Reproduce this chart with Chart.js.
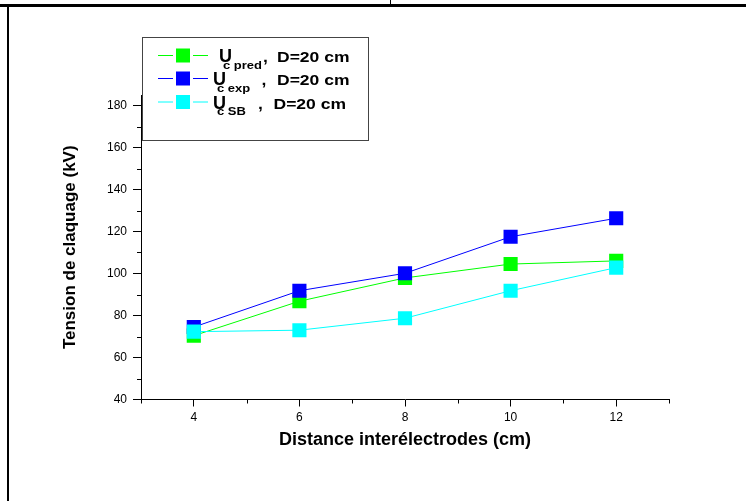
<!DOCTYPE html>
<html>
<head>
<meta charset="utf-8">
<script src="https://cdn.jsdelivr.net/npm/chart.js@4"></script>
<style>
body { margin: 0; background: #fff; }
#wrap { position: relative; width: 746px; height: 501px; }
#myChart { position: absolute; left: 0; top: 0; }
.rule { position: absolute; background: #000; }
</style>
</head>
<body>
<div id="wrap">
  <canvas id="myChart" width="746" height="501"></canvas>
  <div class="rule" style="left:0;top:4px;width:746px;height:3px"></div>
  <div class="rule" style="left:7px;top:4px;width:2px;height:497px"></div>
  <div class="rule" style="left:390px;top:0;width:1px;height:5px"></div>
</div>
<script>
// data
var distances = [4, 6, 8, 10, 12];
var ucPred = [70.4, 86.8, 97.9, 104.5, 106.0];
var ucExp = [74.5, 91.8, 100.1, 117.5, 126.3];
var ucSB = [72.3, 73.0, 78.7, 91.8, 102.8];

var xTicks = [4, 6, 8, 10, 12];
var xMinorTicks = [3, 5, 7, 9, 11, 13];
var yTicks = [40, 60, 80, 100, 120, 140, 160, 180];
var yMinorTicks = [50, 70, 90, 110, 130, 150, 170];
var legendSubs = ['c pred', 'c exp', 'c SB'];
var legendText = 'D=20 cm';

Chart.defaults.font.family = 'Arial, "Liberation Sans", sans-serif';
Chart.defaults.color = '#000';

function points(values) {
    return distances.map(function (d, i) { return { x: d, y: values[i] }; });
}

function series(label, values, color, order) {
    return {
        label: label,
        data: points(values),
        borderColor: color,
        backgroundColor: color,
        borderWidth: 1,
        pointStyle: 'rect',
        pointRadius: 10,
        pointBorderWidth: 0,
        pointHoverRadius: 10,
        order: order
    };
}

var chartData = {
    datasets: [
        series('Uc pred, D=20 cm', ucPred, '#00ff00', 2),
        series('Uc exp, D=20 cm', ucExp, '#0000ff', 1),
        series('Uc SB, D=20 cm', ucSB, '#00ffff', 0)
    ]
};

// small ticks between the labelled ones
var minorTicks = {
    id: 'minorTicks',
    afterDraw: function (chart) {
        var ctx = chart.ctx, xs = chart.scales.x, ys = chart.scales.y, a = chart.chartArea;
        ctx.save();
        ctx.strokeStyle = '#000';
        ctx.lineWidth = 1;
        ctx.beginPath();
        xMinorTicks.forEach(function (v) {
            var px = Math.round(xs.getPixelForValue(v)) + 0.5;
            ctx.moveTo(px, a.bottom);
            ctx.lineTo(px, a.bottom + 4);
        });
        yMinorTicks.forEach(function (v) {
            var py = Math.round(ys.getPixelForValue(v)) + 0.5;
            ctx.moveTo(a.left - 4, py);
            ctx.lineTo(a.left, py);
        });
        ctx.stroke();
        ctx.restore();
    }
};

function drawText(ctx, s, x, y, size, sx) {
    ctx.save();
    ctx.translate(x, y);
    ctx.scale(sx, 1);
    ctx.font = 'bold ' + size + 'px Arial, "Liberation Sans", sans-serif';
    ctx.textBaseline = 'alphabetic';
    ctx.textAlign = 'left';
    ctx.fillText(s, 0, 0);
    ctx.restore();
}

// boxed legend with subscripts, like the Origin one
var boxLegend = {
    id: 'boxLegend',
    afterDraw: function (chart) {
        var ctx = chart.ctx;
        var base = [62, 85, 108.5];
        var uX = [219, 213, 213];
        var commaX = [263, 261.5, 258];
        var dX = [277, 277, 273.5];
        ctx.save();
        ctx.fillStyle = '#fff';
        ctx.fillRect(142, 37, 227, 104);
        ctx.strokeStyle = '#444';
        ctx.lineWidth = 1;
        ctx.strokeRect(142.5, 37.5, 226, 103);
        chart.data.datasets.forEach(function (ds, i) {
            var cy = base[i] - 7;
            ctx.strokeStyle = ds.borderColor;
            ctx.lineWidth = 1;
            ctx.beginPath();
            ctx.moveTo(158, cy + 0.5);
            ctx.lineTo(173, cy + 0.5);
            ctx.moveTo(193, cy + 0.5);
            ctx.lineTo(208, cy + 0.5);
            ctx.stroke();
            ctx.fillStyle = ds.backgroundColor;
            ctx.fillRect(176, cy - 6.5, 14, 14);
            ctx.fillStyle = '#000';
            drawText(ctx, 'U', uX[i], base[i], 18, 1);
            drawText(ctx, legendSubs[i], uX[i] + 4, base[i] + 6.5, 10, 1.3);
            drawText(ctx, ',', commaX[i], base[i], 14, 1.25);
            drawText(ctx, legendText, dX[i], base[i], 14, 1.25);
        });
        ctx.restore();
    }
};

var chartOptions = {
    responsive: false,
    animation: false,
    layout: {
        padding: { left: 0, right: 77, top: 95, bottom: 41.5 }
    },
    plugins: {
        legend: { display: false },
        tooltip: { enabled: false }
    },
    scales: {
        x: {
            type: 'linear',
            min: 3,
            max: 13,
            afterBuildTicks: function (scale) {
                scale.ticks = xTicks.map(function (v) { return { value: v }; });
            },
            afterFit: function (scale) { scale.height = 60; },
            border: { display: true, color: '#000', width: 1 },
            grid: { drawOnChartArea: false, drawTicks: true, tickLength: 7, tickColor: '#000' },
            ticks: { font: { size: 12 }, padding: 4, maxRotation: 0 },
            title: {
                display: true,
                text: 'Distance interélectrodes (cm)',
                font: { size: 18, weight: 'bold' },
                padding: { top: 4, bottom: 9 }
            }
        },
        y: {
            min: 40,
            max: 185,
            afterBuildTicks: function (scale) {
                scale.ticks = yTicks.map(function (v) { return { value: v }; });
            },
            afterFit: function (scale) { scale.width = 141; },
            border: { display: true, color: '#000', width: 1 },
            grid: { drawOnChartArea: false, drawTicks: true, tickLength: 8, tickColor: '#000' },
            ticks: { font: { size: 12 }, padding: 6 },
            title: {
                display: true,
                text: 'Tension de claquage (kV)',
                font: { size: 17, weight: 'bold' },
                padding: { top: 60, bottom: 0 }
            }
        }
    }
};

var element = document.getElementById('myChart').getContext('2d');
var chart = new Chart(element, { type: 'line', data: chartData, options: chartOptions, plugins: [minorTicks, boxLegend] });
</script>
</body>
</html>
